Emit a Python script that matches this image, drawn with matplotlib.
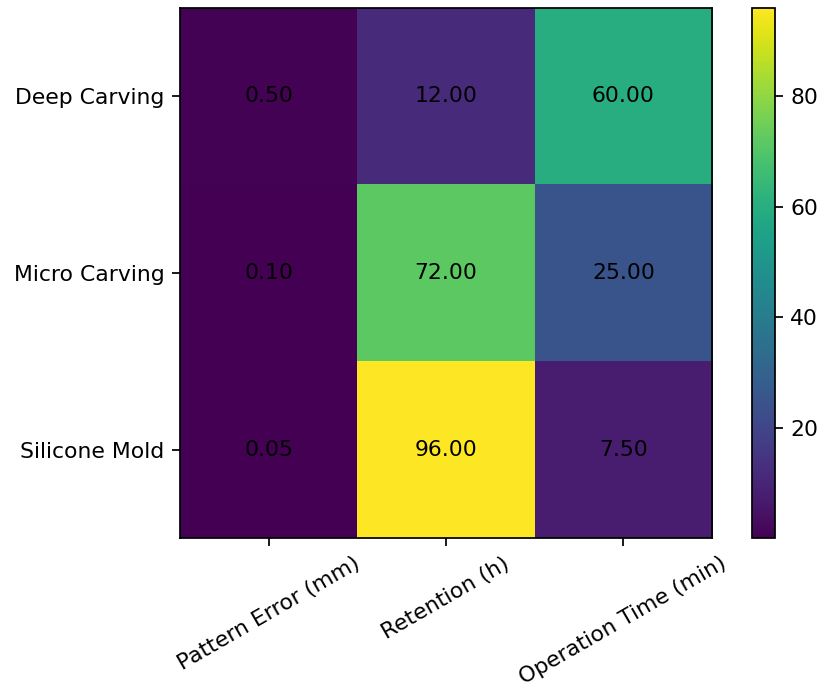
import matplotlib
matplotlib.use("Agg")
import matplotlib.pyplot as plt
import numpy as np

methods = ["Deep Carving", "Micro Carving", "Silicone Mold"]
metrics = ["Pattern Error (mm)", "Retention (h)", "Operation Time (min)"]
pattern_error = [0.50, 0.10, 0.05]
retention = [12.0, 72.0, 96.0]
operation_time = [60.0, 25.0, 7.5]

values = np.column_stack([pattern_error, retention, operation_time])

DPI = 157.5
fig = plt.figure(figsize=(827 / DPI, 691 / DPI), dpi=DPI)
ax = fig.add_axes([0.2177, 0.2214, 0.6433, 0.7670])
cax = fig.add_axes([0.9093, 0.2214, 0.0278, 0.7670])

im = ax.imshow(values, cmap="viridis", aspect="auto")
fig.colorbar(im, cax=cax)

ax.set_xticks(range(len(metrics)))
ax.set_xticklabels(metrics, rotation=30, ha="center")
ax.set_yticks(range(len(methods)))
ax.set_yticklabels(methods)

for i in range(len(methods)):
    for j in range(len(metrics)):
        ax.text(j, i, f"{values[i, j]:.2f}", ha="center", va="center", color="black")

fig.savefig("out.png", dpi=DPI)
